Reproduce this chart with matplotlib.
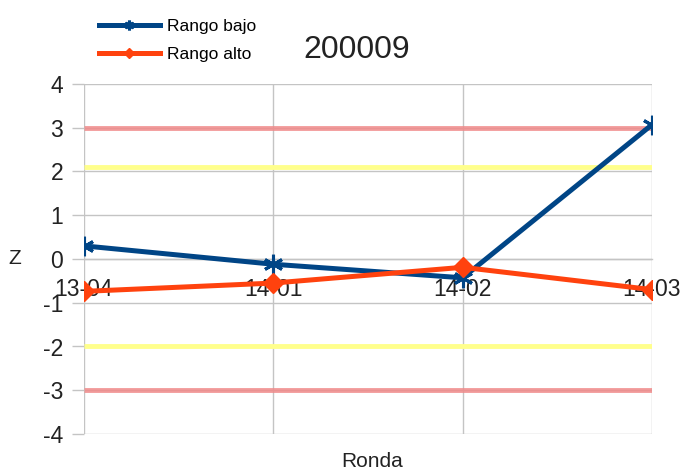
import matplotlib
matplotlib.use('Agg')
import matplotlib.pyplot as plt
import numpy as np

plt.rcParams['font.family'] = ['Liberation Sans', 'DejaVu Sans']

# Data
rondas = ['13-04', '14-01', '14-02', '14-03']
rango_bajo = [0.30, -0.12, -0.43, 3.07]
rango_alto = [-0.74, -0.55, -0.19, -0.70]
limite_rojo = [3.0, -3.0]
limite_amarillo = [2.1, -2.0]
y_ticks = [-4, -3, -2, -1, 0, 1, 2, 3, 4]

BLUE = '#004586'
ORANGE = '#ff420e'
GRID = '#c4c4c4'

fig = plt.figure(figsize=(6.85, 4.73), dpi=100)
ax = fig.add_axes([84 / 685, 1 - 434 / 473, (652 - 84) / 685, (434 - 84) / 473])

x = np.arange(len(rondas))

# reference bands
for v in limite_rojo:
  ax.plot([x[0], x[-1]], [v, v], color='#f08a8a', lw=3.5, alpha=0.85, zorder=2,
          solid_capstyle='butt')
for v in limite_amarillo:
  ax.plot([x[0], x[-1]], [v, v], color='#ffff8c', lw=3.5, zorder=2,
          solid_capstyle='butt')

ax.plot(x, rango_bajo, color=BLUE, lw=3.6, marker=(6, 2, 0), ms=14, mew=2.2,
        mec=BLUE, label='Rango bajo', zorder=4)
ax.plot(x, rango_alto, color=ORANGE, lw=3.6, marker='D', ms=10, mec=ORANGE,
        label='Rango alto', zorder=5)

ax.set_xlim(x[0], x[-1])
ax.set_ylim(-4, 4)
ax.set_yticks(y_ticks)
ax.set_yticklabels([str(t) for t in y_ticks])
ax.set_xticks(x)
ax.set_xticklabels(rondas)

ax.grid(True, color=GRID, lw=1.0, zorder=1)
for s in ['top', 'right', 'left']:
  ax.spines[s].set_visible(False)
ax.spines['bottom'].set_position(('data', 0))
ax.spines['bottom'].set_color(GRID)
ax.spines['bottom'].set_linewidth(1.0)

ax.tick_params(axis='y', length=9, width=1.0, color=GRID, pad=6, labelsize=16.5,
               labelcolor='#222222')
ax.tick_params(axis='x', length=0, pad=14, labelsize=16.5, labelcolor='#222222')

fig.text(15 / 685, 1 - 259 / 473, 'Z', ha='center', va='center', fontsize=15,
         color='#222222')
fig.text(372 / 685, 1 - 461 / 473, 'Ronda', ha='center', va='center', fontsize=15,
         color='#222222')
fig.text(357 / 685, 1 - 50 / 473, '200009', ha='center', va='center', fontsize=23,
         color='#222222')

fig.legend(loc='upper left', bbox_to_anchor=(92 / 685, 1 - 12 / 473), frameon=False,
           fontsize=12.5, handlelength=3.5, handletextpad=0.4, labelspacing=0.75,
           markerscale=0.5, borderaxespad=0)

fig.savefig('out.png', dpi=100)
